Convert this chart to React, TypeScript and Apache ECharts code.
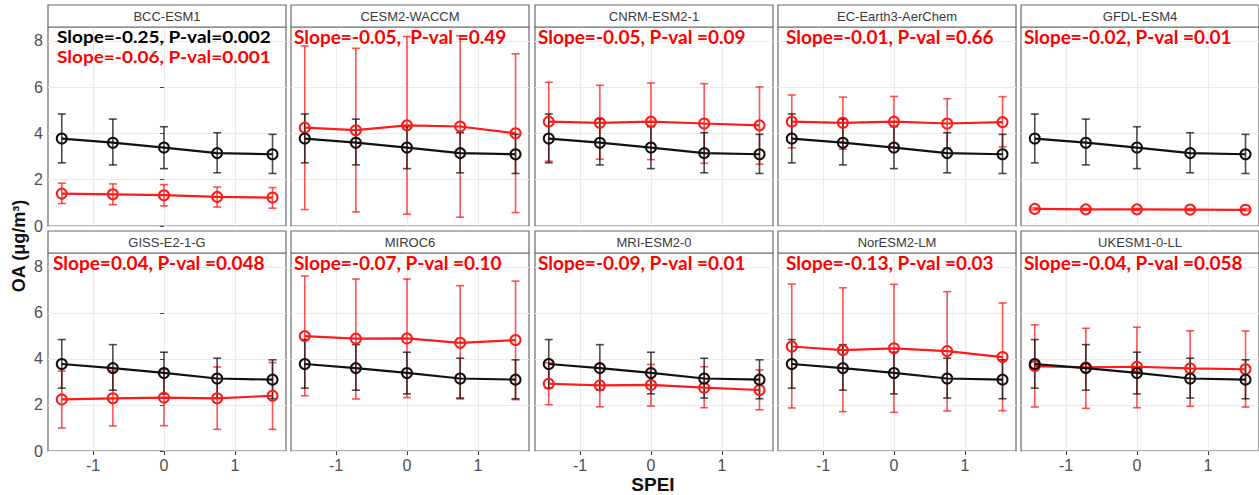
import React, { useEffect, useRef } from 'react';
import * as echarts from 'echarts';

// SPEI bin centres (x positions)
const spei = [-1.44, -0.72, 0, 0.75, 1.53];

// observations (black) - same in every panel
const obsMean = [3.78, 3.6, 3.39, 3.15, 3.1];
const obsLow = [2.73, 2.64, 2.48, 2.3, 2.27];
const obsHigh = [4.84, 4.62, 4.29, 4.03, 3.96];

// models (red)
const bccMean = [1.4, 1.37, 1.33, 1.26, 1.23];
const bccLow = [0.97, 0.92, 0.87, 0.82, 0.77];
const bccHigh = [1.85, 1.82, 1.79, 1.68, 1.66];

const cesmMean = [4.25, 4.14, 4.35, 4.3, 4.01];
const cesmLow = [0.71, 0.61, 0.51, 0.38, 0.58];
const cesmHigh = [7.78, 7.68, 8.19, 8.22, 7.44];

const cnrmMean = [4.51, 4.46, 4.51, 4.43, 4.35];
const cnrmLow = [2.8, 2.89, 2.87, 2.71, 2.67];
const cnrmHigh = [6.21, 6.08, 6.18, 6.15, 6.01];

const ecMean = [4.51, 4.46, 4.51, 4.43, 4.49];
const ecLow = [3.38, 3.32, 3.4, 3.37, 3.42];
const ecHigh = [5.66, 5.57, 5.6, 5.5, 5.59];

const gfdlMean = [0.74, 0.72, 0.72, 0.71, 0.7];
const gfdlLow = [0.7, 0.68, 0.68, 0.67, 0.66];
const gfdlHigh = [0.78, 0.76, 0.76, 0.75, 0.74];

const gissMean = [2.24, 2.29, 2.32, 2.29, 2.4];
const gissLow = [1.0, 1.09, 1.1, 0.94, 0.94];
const gissHigh = [3.47, 3.49, 3.54, 3.65, 3.84];

const mirocMean = [4.99, 4.88, 4.89, 4.7, 4.82];
const mirocLow = [2.4, 2.26, 2.32, 2.26, 2.23];
const mirocHigh = [7.6, 7.47, 7.47, 7.18, 7.38];

const mriMean = [2.92, 2.85, 2.87, 2.75, 2.65];
const mriLow = [2.01, 1.92, 1.95, 1.88, 1.79];
const mriHigh = [3.83, 3.78, 3.76, 3.66, 3.52];

const norMean = [4.54, 4.38, 4.46, 4.34, 4.08];
const norLow = [1.87, 1.71, 1.68, 1.74, 1.75];
const norHigh = [7.25, 7.09, 7.24, 6.92, 6.43];

const ukMean = [3.69, 3.63, 3.66, 3.59, 3.55];
const ukLow = [1.91, 1.85, 1.88, 1.94, 1.91];
const ukHigh = [5.48, 5.33, 5.38, 5.22, 5.21];

const modelNames = [
  'BCC-ESM1', 'CESM2-WACCM', 'CNRM-ESM2-1', 'EC-Earth3-AerChem', 'GFDL-ESM4',
  'GISS-E2-1-G', 'MIROC6', 'MRI-ESM2-0', 'NorESM2-LM', 'UKESM1-0-LL',
];
const slopeLabels = [
  'Slope=-0.06, P-val=0.001',
  'Slope=-0.05,  P-val =0.49',
  'Slope=-0.05, P-val =0.09',
  'Slope=-0.01, P-val =0.66',
  'Slope=-0.02, P-val =0.01',
  'Slope=0.04, P-val =0.048',
  'Slope=-0.07, P-val =0.10',
  'Slope=-0.09, P-val =0.01',
  'Slope=-0.13, P-val =0.03',
  'Slope=-0.04, P-val =0.058',
];
const obsLabel = 'Slope=-0.25, P-val=0.002';
const xTicks = [-1, 0, 1];
const yTicks = [0, 2, 4, 6, 8];

const modelMeans = [bccMean, cesmMean, cnrmMean, ecMean, gfdlMean, gissMean, mirocMean, mriMean, norMean, ukMean];
const modelLows = [bccLow, cesmLow, cnrmLow, ecLow, gfdlLow, gissLow, mirocLow, mriLow, norLow, ukLow];
const modelHighs = [bccHigh, cesmHigh, cnrmHigh, ecHigh, gfdlHigh, gissHigh, mirocHigh, mriHigh, norHigh, ukHigh];

const RED = '#ff1a1a';
const BLACK = '#111111';

const errorBars = (color: string) => (params: any, api: any) => {
  const x = api.value(0);
  const lo = api.coord([x, api.value(1)]);
  const hi = api.coord([x, api.value(2)]);
  const cap = 4;
  const style = { stroke: color, lineWidth: 1.6, opacity: 0.75 };
  return {
    type: 'group',
    children: [
      { type: 'line', shape: { x1: lo[0], y1: lo[1], x2: hi[0], y2: hi[1] }, style },
      { type: 'line', shape: { x1: lo[0] - cap, y1: lo[1], x2: lo[0] + cap, y2: lo[1] }, style },
      { type: 'line', shape: { x1: hi[0] - cap, y1: hi[1], x2: hi[0] + cap, y2: hi[1] }, style },
    ],
  };
};

const App: React.FC = () => {
  const chartRef = useRef<HTMLDivElement>(null);

  useEffect(() => {
    if (!chartRef.current) return;
    const chart = echarts.init(chartRef.current, null, { renderer: 'svg' });

    const colLeft = [48, 291, 535, 778, 1021];
    const panelW = 238;
    const rowTop = [27, 253];
    const panelH = [199, 198];
    const stripH = 22;
    const annFont = 'Lato, "Open Sans", sans-serif';
    const annStyle = (text: string, fill: string) => ({
      text, fill, fontSize: 19, fontWeight: 'bold',
      fontFamily: annFont, verticalAlign: 'middle',
    });

    const grids: any[] = [];
    const xAxes: any[] = [];
    const yAxes: any[] = [];
    const series: any[] = [];
    const graphics: any[] = [];

    modelNames.forEach((name, i) => {
      const row = Math.floor(i / 5);
      const col = i % 5;
      const left = colLeft[col];
      const top = rowTop[row];

      grids.push({
        left, top, width: panelW, height: panelH[row],
        show: true, backgroundColor: '#fff', borderColor: '#6b6b6b', borderWidth: 1.2,
      });
      xAxes.push({
        type: 'value', gridIndex: i, min: -1.634, max: 1.72,
        axisLine: { show: false },
        axisTick: { show: row === 1, customValues: xTicks, length: 4, lineStyle: { color: '#444' } },
        axisLabel: {
          show: row === 1, customValues: xTicks, margin: 6,
          color: '#4d4d4d', fontSize: 16, fontFamily: '"Liberation Sans", Arial, sans-serif',
        },
        splitLine: { show: true, lineStyle: { color: '#ebebeb', width: 1 } },
      });
      yAxes.push({
        type: 'value', gridIndex: i, min: 0, max: 8.6, interval: 1,
        axisLine: { show: false },
        axisTick: { show: col === 0, customValues: yTicks, length: 4, lineStyle: { color: '#444' } },
        axisLabel: {
          show: col === 0, customValues: yTicks, margin: 5,
          color: '#4d4d4d', fontSize: 16, fontFamily: '"Liberation Sans", Arial, sans-serif',
        },
        splitLine: { show: true, lineStyle: { color: '#ebebeb', width: 1 } },
      });

      const lineSeries = (data: number[], color: string, z: number) => ({
        type: 'line', xAxisIndex: i, yAxisIndex: i, z,
        data: spei.map((x, k) => [x, data[k]]),
        symbol: 'circle', symbolSize: 10,
        itemStyle: { color: 'rgba(0,0,0,0)', borderColor: color, borderWidth: 2 },
        lineStyle: { color, width: 2.2 },
        emphasis: { disabled: true },
      });
      const barSeries = (lo: number[], hi: number[], color: string, z: number) => ({
        type: 'custom', xAxisIndex: i, yAxisIndex: i, z,
        data: spei.map((x, k) => [x, lo[k], hi[k]]),
        encode: { x: 0, y: [1, 2] },
        renderItem: errorBars(color),
      });

      series.push(barSeries(modelLows[i], modelHighs[i], RED, 2));
      series.push(barSeries(obsLow, obsHigh, BLACK, 3));
      series.push(lineSeries(modelMeans[i], RED, 4));
      series.push(lineSeries(obsMean, BLACK, 5));

      // facet strip
      graphics.push({
        type: 'rect',
        shape: { x: left, y: top - stripH, width: panelW, height: stripH },
        style: { fill: '#fff', stroke: '#6b6b6b', lineWidth: 1.2 },
        z: 10,
      });
      graphics.push({
        type: 'text', x: left + panelW / 2, y: top - stripH / 2, z: 11,
        style: {
          text: name, fill: '#3a3a3a', fontSize: 13, align: 'center', verticalAlign: 'middle',
          fontFamily: '"Liberation Sans", Arial, sans-serif',
        },
      });

      // slope annotations
      if (i === 0) {
        // two stacked lines, squeezed vertically so they sit as tightly as in the original
        graphics.push({ type: 'text', x: left + 9, y: top + 10, scaleY: 0.86, z: 12, style: annStyle(obsLabel, '#000') });
        graphics.push({ type: 'text', x: left + 9, y: top + 30, scaleY: 0.86, z: 12, style: annStyle(slopeLabels[i], '#ff0000') });
      } else {
        const dx = [9, 3, 3, 8, 3][col] + (row === 1 && col === 0 ? -4 : 0);
        graphics.push({ type: 'text', x: left + dx, y: top + 9, z: 12, style: annStyle(slopeLabels[i], '#ff0000') });
      }
    });

    graphics.push({
      type: 'text', x: 19, y: 246, rotation: Math.PI / 2, z: 12,
      style: {
        text: 'OA (μg/m³)', fill: '#111', fontSize: 18, fontWeight: 'bold',
        fontFamily: '"Liberation Sans", Arial, sans-serif', align: 'center', verticalAlign: 'middle',
      },
    });
    graphics.push({
      type: 'text', x: 653, y: 484, z: 12,
      style: {
        text: 'SPEI', fill: '#111', fontSize: 19, fontWeight: 'bold',
        fontFamily: '"Liberation Sans", Arial, sans-serif', align: 'center', verticalAlign: 'middle',
      },
    });

    chart.setOption({
      animation: false,
      backgroundColor: '#fff',
      grid: grids,
      xAxis: xAxes,
      yAxis: yAxes,
      series,
      graphic: graphics,
    });

    return () => chart.dispose();
  }, []);

  return (
    <div
      ref={chartRef}
      style={{ position: 'fixed', left: 0, top: 0, width: 1259, height: 495 }}
    />
  );
};

export default App;
